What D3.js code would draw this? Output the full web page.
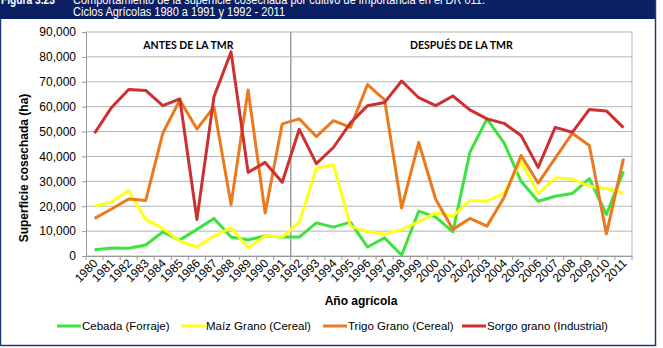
<!DOCTYPE html>
<html>
<head>
<meta charset="utf-8">
<script src="https://cdn.jsdelivr.net/npm/d3@7"></script>
<style>
  body { margin: 0; background: #ffffff; }
  svg { display: block; font-family: "Liberation Sans", Arial, sans-serif; }
</style>
</head>
<body>
<svg id="chart"></svg>
<script>
// years (x categories)
var years = ["1980","1981","1982","1983","1984","1985","1986","1987","1988","1989","1990","1991",
             "1992","1993","1994","1995","1996","1997","1998","1999","2000","2001","2002","2003",
             "2004","2005","2006","2007","2008","2009","2010","2011"];

// harvested surface (ha) per crop
var cebada = [2500, 3200, 3100, 4400, 9700, 6400, 10700, 15100, 7600, 6500, 8000, 7600,
              7600, 13300, 11600, 13600, 3600, 7300, 300, 18000, 15600, 9700, 41700, 55100,
              45500, 30000, 22000, 24000, 25100, 31100, 16700, 34000];
var maiz = [20000, 21700, 26300, 14700, 11100, 6000, 3600, 8000, 11300, 3300, 8000, 7700,
            13500, 35300, 36700, 12000, 9700, 8700, 10700, 13700, 17300, 16000, 22300, 22000,
            25300, 38000, 25100, 31300, 30900, 28000, 27100, 25300];
var trigo = [15100, 18900, 22900, 22300, 49300, 62700, 51000, 59900, 20700, 66700, 17300, 53100,
             55100, 48000, 54400, 51700, 68900, 62700, 19300, 45600, 22700, 10700, 15100, 12000,
             23500, 40400, 29300, 39300, 49300, 44400, 8900, 39100];
var sorgo = [49300, 59700, 66900, 66500, 60400, 63100, 14700, 64000, 82000, 33600, 37600, 29600,
             50900, 37100, 43600, 53500, 60400, 61700, 70300, 63600, 60400, 64300, 58700, 55100,
             53300, 48400, 35600, 51700, 49700, 58900, 58300, 51600];

var seriesNames = ["Cebada (Forraje)", "Maíz Grano (Cereal)", "Trigo Grano (Cereal)", "Sorgo grano (Industrial)"];
var seriesColors = ["#3de23d", "#ffff1a", "#ea7a1e", "#cc3030"];
var yTicks = [0, 10000, 20000, 30000, 40000, 50000, 60000, 70000, 80000, 90000];

var W = 663, H = 348;
var margin = {top: 32, right: 31, bottom: 92, left: 86},
    width = W - margin.left - margin.right,
    height = H - margin.top - margin.bottom;

var svg = d3.select("svg#chart")
    .attr("width", W)
    .attr("height", H);

// title band
svg.append("rect")
    .attr("x", 0).attr("y", 0)
    .attr("width", 655).attr("height", 19)
    .attr("fill", "#0b2062");

// title lines, squeezed to a narrow look
svg.append("text")
    .attr("x", 1).attr("y", 4)
    .attr("fill", "#ffffff")
    .attr("textLength", 54)
    .attr("lengthAdjust", "spacingAndGlyphs")
    .style("font-size", "12px")
    .style("font-weight", "bold")
    .text("Figura 3.23");
svg.append("text")
    .attr("x", 73).attr("y", 4)
    .attr("fill", "#ffffff")
    .attr("textLength", 412)
    .attr("lengthAdjust", "spacingAndGlyphs")
    .style("font-size", "12px")
    .text("Comportamiento de la superficie cosechada por cultivo de importancia en el DR 011.");
svg.append("text")
    .attr("x", 73).attr("y", 16)
    .attr("fill", "#ffffff")
    .attr("textLength", 212)
    .attr("lengthAdjust", "spacingAndGlyphs")
    .style("font-size", "12px")
    .text("Ciclos Agrícolas 1980 a 1991 y 1992 - 2011");

// outer frame
svg.append("path")
    .attr("d", "M0.5,19 L0.5,345.5 L655.5,345.5 L655.5,0")
    .attr("fill", "none")
    .attr("stroke", "#1f3a7a")
    .attr("stroke-width", 1.5);

var g = svg.append("g")
    .attr("transform", "translate(" + margin.left + "," + margin.top + ")");

var x = d3.scaleBand()
    .domain(years)
    .range([0, width])
    .padding(0);

var y = d3.scaleLinear()
    .domain([0, 90000])
    .range([height, 0]);

// gridlines
g.selectAll(".grid")
    .data(yTicks)
    .enter()
    .append("line")
    .attr("x1", 0).attr("x2", width)
    .attr("y1", function(d) { return y(d); })
    .attr("y2", function(d) { return y(d); })
    .attr("stroke", "#b3b3b3")
    .attr("stroke-width", 1);

// plot border right
g.append("line")
    .attr("x1", width).attr("x2", width)
    .attr("y1", 0).attr("y2", height)
    .attr("stroke", "#b3b3b3");

// y axis
var yAxis = g.append("g")
    .call(d3.axisLeft(y).tickValues(yTicks).tickSize(4).tickPadding(6).tickFormat(d3.format(",")));
yAxis.select(".domain").attr("stroke", "#999999");
yAxis.selectAll(".tick line").attr("stroke", "#999999");
yAxis.selectAll("text")
    .style("font-size", "12px")
    .style("font-family", "'Liberation Sans', Arial, sans-serif")
    .attr("fill", "#000");

// x axis: ticks at category boundaries
var xAxis = g.append("g")
    .attr("transform", "translate(0," + height + ")")
    .call(d3.axisBottom(x).tickSize(0).tickPadding(0));
xAxis.select(".domain").attr("stroke", "#999999");
xAxis.selectAll(".bound")
    .data(years.concat(["end"]))
    .enter()
    .append("line")
    .attr("x1", function(d, i) { return i * x.bandwidth(); })
    .attr("x2", function(d, i) { return i * x.bandwidth(); })
    .attr("y1", 0).attr("y2", 4)
    .attr("stroke", "#999999");
xAxis.selectAll(".tick text")
    .attr("x", 0)
    .attr("y", 0)
    .attr("dy", "0")
    .attr("transform", "translate(4,8) rotate(-45)")
    .style("text-anchor", "end")
    .style("font-size", "12px")
    .style("font-family", "'Liberation Sans', Arial, sans-serif")
    .attr("fill", "#000");

// divider between periods
g.append("line")
    .attr("x1", x("1992")).attr("x2", x("1992"))
    .attr("y1", 0).attr("y2", height)
    .attr("stroke", "#a0a0a0")
    .attr("stroke-width", 1.5);

// period labels
g.append("text")
    .attr("x", (x("1980") + x("1992")) / 2 + 0)
    .attr("y", 17)
    .style("text-anchor", "middle")
    .style("font-family", "Lato, 'Open Sans', sans-serif")
    .style("font-size", "10.5px")
    .style("font-weight", "bold")
    .text("ANTES DE LA TMR");
g.append("text")
    .attr("x", (x("1992") + width) / 2 + 0)
    .attr("y", 17)
    .style("text-anchor", "middle")
    .style("font-family", "Lato, 'Open Sans', sans-serif")
    .style("font-size", "10.5px")
    .style("font-weight", "bold")
    .text("DESPUÉS DE LA TMR");

// lines
var allSeries = [cebada, maiz, trigo, sorgo];
var line = d3.line()
    .x(function(d, i) { return x(years[i]) + x.bandwidth() / 2; })
    .y(function(d) { return y(d); });

g.selectAll(".series")
    .data(allSeries)
    .enter()
    .append("path")
    .attr("d", function(d) { return line(d); })
    .attr("fill", "none")
    .attr("stroke", function(d, i) { return seriesColors[i]; })
    .attr("stroke-width", 3)
    .attr("stroke-linejoin", "round");

// y axis title
svg.append("text")
    .attr("transform", "translate(28,168) rotate(-90)")
    .style("text-anchor", "middle")
    .style("font-size", "12px")
    .style("font-weight", "bold")
    .text("Superficie cosechada (ha)");

// x axis title
svg.append("text")
    .attr("x", margin.left + width / 2 + 2)
    .attr("y", 305)
    .style("text-anchor", "middle")
    .style("font-size", "12px")
    .style("font-weight", "bold")
    .text("Año agrícola");

// legend
var legendX = [57, 181, 323, 462];
var legend = svg.selectAll(".legend")
    .data(seriesNames)
    .enter()
    .append("g")
    .attr("transform", function(d, i) { return "translate(" + legendX[i] + ",326)"; });
legend.append("line")
    .attr("x1", 0).attr("x2", 24)
    .attr("y1", 0).attr("y2", 0)
    .attr("stroke", function(d, i) { return seriesColors[i]; })
    .attr("stroke-width", 3);
legend.append("text")
    .attr("x", 25)
    .attr("y", 4)
    .style("font-size", "11.5px")
    .text(function(d) { return d; });
</script>
</body>
</html>
